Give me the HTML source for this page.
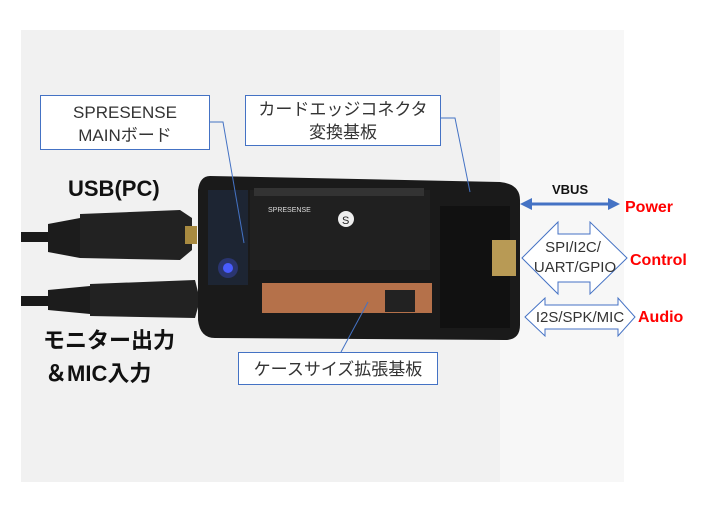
<!DOCTYPE html>
<html><head><meta charset="utf-8"><style>
html,body{margin:0;padding:0;background:#fff;width:706px;height:529px;overflow:hidden}
svg{display:block}
</style></head><body>
<svg width="706" height="529" xmlns="http://www.w3.org/2000/svg" font-family="Liberation Sans, Noto Sans CJK JP, sans-serif">
<rect x="21" y="30" width="603" height="452" fill="#f1f1f1"/>
<rect x="500" y="30" width="124" height="452" fill="#f7f7f7"/>
<!-- cables -->
<rect x="21" y="232" width="40" height="10" fill="#1a1a1a"/>
<path d="M48 224 L80 218 L80 258 L48 252Z" fill="#1c1c1c"/>
<path d="M80 214 L180 210 L192 218 L192 250 L180 260 L80 258Z" fill="#222"/>
<rect x="185" y="226" width="12" height="18" fill="#a88a40"/>
<rect x="21" y="296" width="40" height="10" fill="#1a1a1a"/>
<path d="M48 290 L90 286 L90 314 L48 310Z" fill="#1c1c1c"/>
<path d="M90 284 L195 280 L200 300 L195 318 L90 316Z" fill="#222"/>
<!-- case -->
<path d="M210 176 L500 182 Q520 184 520 200 L520 325 Q520 340 505 340 L215 338 Q200 338 198 320 L198 190 Q200 176 210 176Z" fill="#1a1a1a"/>
<rect x="208" y="190" width="40" height="95" fill="#1d2533"/>
<rect x="250" y="190" width="180" height="80" fill="#202020"/>
<rect x="254" y="188" width="170" height="8" fill="#333"/>
<circle cx="346" cy="219" r="8" fill="#eee"/>
<text x="342" y="224" font-size="11" fill="#222">S</text>
<text x="268" y="212" font-size="7" fill="#ddd">SPRESENSE</text>
<rect x="262" y="283" width="170" height="30" fill="#b5714a"/>
<rect x="385" y="290" width="30" height="22" fill="#222"/>
<rect x="440" y="206" width="70" height="122" fill="#111"/>
<rect x="492" y="240" width="24" height="36" fill="#b89a55"/>
<circle cx="228" cy="268" r="5" fill="#4a5cff"/>
<circle cx="228" cy="268" r="10" fill="#4a5cff" opacity="0.3"/>
<!-- leader lines -->
<g stroke="#4472c4" stroke-width="1" fill="none">
<path d="M209 122 L223 122 L244 243"/>
<path d="M440 118 L455 118 L470 192"/>
<path d="M341 352 L368 302"/>
</g>
<!-- label boxes -->
<g fill="#fff" stroke="#4472c4" stroke-width="1">
<rect x="40.5" y="95.5" width="169" height="54"/>
<rect x="245.5" y="95.5" width="195" height="50"/>
<rect x="238.5" y="352.5" width="199" height="32"/>
</g>
<g font-size="17" fill="#333" text-anchor="middle">
<text x="125" y="118">SPRESENSE</text>
<text x="125" y="141">MAINボード</text>
<text x="343" y="115">カードエッジコネクタ</text>
<text x="343" y="138">変換基板</text>
<text x="338" y="375">ケースサイズ拡張基板</text>
</g>
<g font-weight="bold" fill="#111">
<text x="68" y="196" font-size="22">USB(PC)</text>
<text x="43" y="348" font-size="22">モニター出力</text>
<text x="45" y="381" font-size="22">＆MIC入力</text>
</g>
<!-- VBUS arrow -->
<text x="552" y="194" font-size="13" font-weight="bold" fill="#111">VBUS</text>
<g fill="#4472c4" stroke="#4472c4" stroke-width="3">
<line x1="530" y1="204" x2="610" y2="204"/>
</g>
<path d="M520 204 L532 198 L532 210Z M620 204 L608 198 L608 210Z" fill="#4472c4"/>
<!-- hollow arrows -->
<path d="M522 258 L558 222 L558 234 L590 234 L590 222 L627 258 L590 294 L590 282 L558 282 L558 294Z" fill="#fff" stroke="#4472c4" stroke-width="1"/>
<path d="M525 317 L545 298 L545 305 L618 305 L618 298 L635 317 L618 336 L618 329 L545 329 L545 336Z" fill="#fff" stroke="#4472c4" stroke-width="1"/>
<g font-size="15" fill="#333" text-anchor="middle">
<text x="573" y="252">SPI/I2C/</text>
<text x="575" y="272">UART/GPIO</text>
<text x="580" y="322">I2S/SPK/MIC</text>
</g>
<g font-weight="bold" fill="#ff0000" font-size="16">
<text x="625" y="212">Power</text>
<text x="630" y="265">Control</text>
<text x="638" y="322">Audio</text>
</g>
</svg>
</body></html>
